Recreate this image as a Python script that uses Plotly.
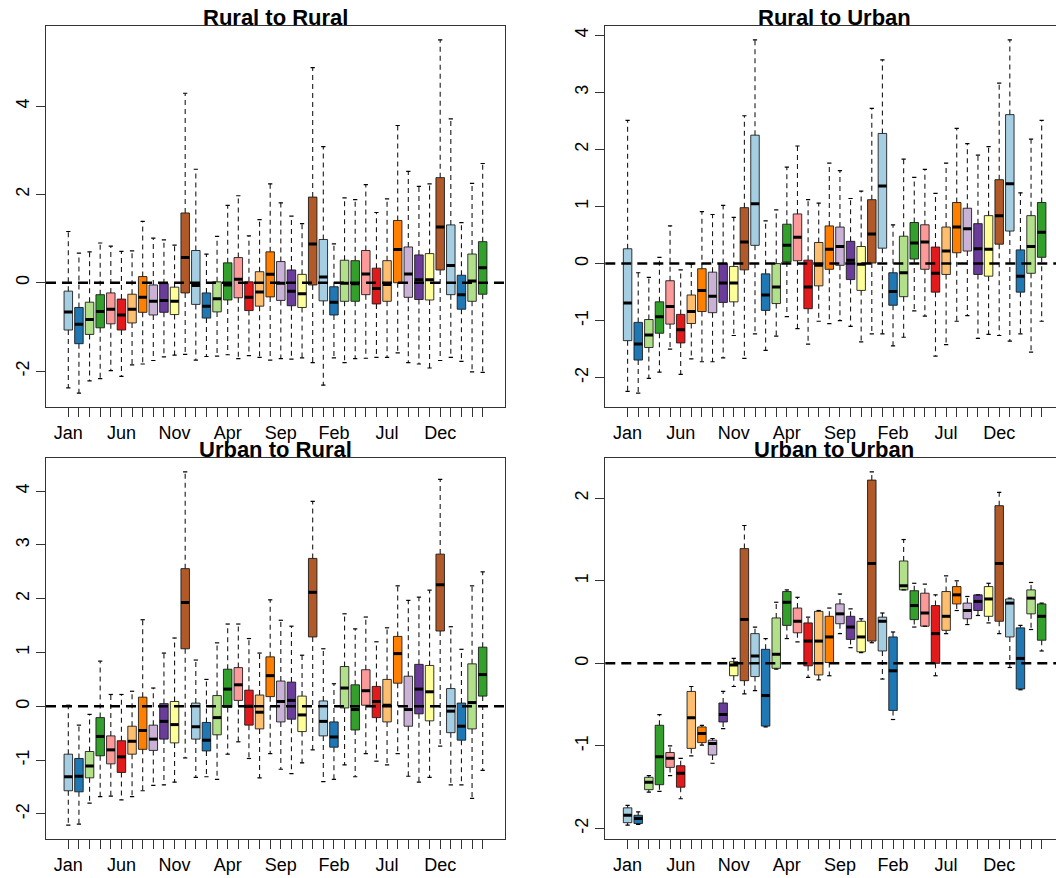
import plotly.graph_objects as go

MONTHS = ["Jan", "Feb", "Mar", "Apr", "May", "Jun",
          "Jul", "Aug", "Sep", "Oct", "Nov", "Dec"]
PAIRED = ["#A6CEE3", "#1F78B4", "#B2DF8A", "#33A02C", "#FB9A99", "#E31A1C",
          "#FDBF6F", "#FF7F00", "#CAB2D6", "#6A3D9A", "#FFFF99", "#B15928"]
N_BOXES = 40  # consecutive months starting in January

# ---- Rural to Rural: whisker low, Q1, median, Q3, whisker high ----
rr_low = [-2.38, -2.50, -2.22, -2.17, -1.99, -2.12, -1.86, -1.84, -1.76, -1.68,
          -1.64, -1.62, -1.75, -1.67, -1.66, -1.63, -1.72, -1.65, -1.69, -1.75,
          -1.72, -1.73, -1.70, -1.81, -2.32, -1.70, -1.81, -1.72, -1.71, -1.69,
          -1.69, -1.59, -1.81, -1.84, -1.93, -1.76, -1.69, -1.78, -2.02, -2.03]
rr_q1 = [-1.07, -1.38, -1.17, -1.02, -0.93, -1.07, -0.91, -0.67, -0.73, -0.67,
         -0.72, -0.23, -0.49, -0.80, -0.66, -0.39, -0.34, -0.63, -0.53, -0.32,
         -0.40, -0.52, -0.56, -0.05, -0.41, -0.73, -0.42, -0.42, -0.27, -0.48,
         -0.42, 0.00, -0.33, -0.38, -0.39, 0.29, -0.27, -0.60, -0.42, -0.26]
rr_med = [-0.66, -0.94, -0.83, -0.65, -0.60, -0.73, -0.60, -0.33, -0.42, -0.40,
          -0.42, 0.57, -0.06, -0.53, -0.36, -0.05, 0.08, -0.33, -0.21, 0.19,
          -0.01, -0.19, -0.25, 0.88, 0.13, -0.44, -0.01, -0.02, 0.20, -0.13,
          -0.04, 0.75, 0.20, 0.07, 0.07, 1.26, 0.39, -0.27, 0.04, 0.34]
rr_q3 = [-0.19, -0.56, -0.44, -0.27, -0.23, -0.37, -0.26, 0.14, -0.05, -0.02,
         -0.10, 1.58, 0.73, -0.23, 0.02, 0.45, 0.57, 0.02, 0.25, 0.70,
         0.48, 0.29, 0.19, 1.94, 0.98, -0.09, 0.51, 0.50, 0.73, 0.33,
         0.50, 1.41, 0.81, 0.63, 0.66, 2.38, 1.31, 0.17, 0.65, 0.93]
rr_high = [1.16, 0.67, 0.70, 0.90, 0.83, 0.71, 0.72, 1.39, 1.01, 0.97,
           0.85, 4.29, 2.57, 0.65, 1.05, 1.75, 1.97, 1.06, 1.43, 2.24,
           1.81, 1.51, 1.34, 4.87, 3.08, 0.88, 1.92, 1.88, 2.22, 1.59,
           1.90, 3.56, 2.52, 2.18, 2.24, 5.50, 3.71, 1.36, 2.25, 2.70]

# ---- Rural to Urban ----
ru_low = [-2.24, -2.27, -2.01, -1.90, -1.50, -1.94, -1.67, -1.72, -1.72, -1.65,
          -1.26, -1.66, -1.23, -1.52, -1.27, -0.93, -1.14, -1.41, -1.01, -1.05,
          -1.00, -1.10, -1.37, -1.23, -1.23, -1.44, -1.29, -0.83, -0.92, -1.62,
          -1.42, -1.01, -0.91, -1.31, -1.24, -1.26, -1.36, -1.23, -1.55, -1.01]
ru_q1 = [-1.35, -1.69, -1.47, -1.22, -1.06, -1.39, -1.05, -0.84, -0.86, -0.68,
         -0.67, -0.11, 0.32, -0.82, -0.70, 0.03, 0.05, -0.79, -0.39, -0.10,
         -0.03, -0.28, -0.47, 0.01, 0.27, -0.73, -0.58, 0.08, -0.10, -0.50,
         -0.19, 0.19, 0.22, -0.19, -0.22, 0.34, 0.57, -0.50, -0.17, 0.11]
ru_med = [-0.69, -1.41, -1.25, -0.93, -0.75, -1.16, -0.84, -0.47, -0.57, -0.34,
          -0.34, 0.38, 1.05, -0.55, -0.41, 0.32, 0.46, -0.41, -0.03, 0.25,
          0.30, 0.06, -0.01, 0.52, 1.36, -0.49, -0.16, 0.36, 0.38, -0.17,
          0.22, 0.64, 0.61, 0.26, 0.25, 0.84, 1.40, -0.22, 0.30, 0.55]
ru_q3 = [0.26, -1.03, -0.98, -0.67, -0.30, -0.89, -0.55, -0.09, -0.15, 0.00,
         -0.05, 0.98, 2.25, -0.18, 0.00, 0.69, 0.87, 0.06, 0.37, 0.66,
         0.64, 0.39, 0.30, 1.12, 2.28, -0.16, 0.48, 0.72, 0.68, 0.29,
         0.64, 1.07, 0.97, 0.70, 0.84, 1.47, 2.61, 0.24, 0.84, 1.07]
ru_high = [2.51, -0.16, -0.24, 0.11, 0.66, -0.11, -0.01, 0.91, 0.86, 1.02,
           0.81, 2.59, 3.92, 0.75, 0.94, 1.69, 2.06, 1.12, 1.06, 1.76,
           1.63, 1.14, 1.27, 2.72, 3.57, 0.68, 1.83, 1.51, 1.65, 1.23,
           1.76, 2.37, 2.10, 1.90, 2.05, 3.16, 3.92, 1.24, 2.18, 2.51]

# ---- Urban to Rural ----
ur_low = [-2.21, -2.19, -1.80, -1.68, -1.67, -1.74, -1.68, -1.57, -1.47, -1.46,
          -1.41, -0.96, -1.32, -1.31, -1.36, -0.89, -0.66, -0.97, -1.33, -0.88,
          -1.17, -1.25, -1.05, -0.81, -1.40, -1.36, -1.09, -1.31, -0.88, -1.02,
          -1.09, -0.88, -1.30, -1.41, -1.32, -0.74, -1.46, -1.46, -1.71, -1.19]
ur_q1 = [-1.57, -1.59, -1.33, -0.92, -1.07, -1.23, -0.89, -0.80, -0.82, -0.61,
         -0.68, 1.07, -0.61, -0.83, -0.53, -0.02, 0.11, -0.35, -0.42, 0.18,
         -0.29, -0.24, -0.47, 1.29, -0.55, -0.76, -0.03, -0.44, 0.02, -0.21,
         -0.29, 0.43, -0.37, -0.14, -0.27, 1.40, -0.49, -0.63, -0.42, 0.19]
ur_med = [-1.31, -1.30, -1.11, -0.56, -0.81, -0.94, -0.65, -0.45, -0.61, -0.28,
          -0.34, 1.93, -0.38, -0.63, -0.21, 0.32, 0.40, 0.00, -0.11, 0.57,
          0.09, 0.11, -0.16, 2.12, -0.28, -0.57, 0.34, -0.06, 0.29, 0.09,
          0.02, 0.98, -0.06, 0.32, 0.27, 2.26, -0.09, -0.37, 0.07, 0.59]
ur_q3 = [-0.89, -0.97, -0.84, -0.21, -0.55, -0.64, -0.37, 0.17, -0.35, 0.05,
         0.09, 2.56, 0.06, -0.30, 0.20, 0.69, 0.72, 0.30, 0.21, 0.92,
         0.47, 0.45, 0.19, 2.75, 0.10, -0.29, 0.74, 0.40, 0.68, 0.37,
         0.50, 1.30, 0.56, 0.78, 0.76, 2.83, 0.33, 0.06, 0.79, 1.10]
ur_high = [0.02, -0.35, -0.15, 0.84, 0.22, 0.22, 0.28, 1.61, 0.34, 0.99,
           1.27, 4.36, 0.86, 0.50, 1.18, 1.53, 1.53, 1.26, 0.99, 1.98,
           1.60, 1.49, 0.95, 3.81, 1.07, 0.42, 1.72, 1.44, 1.66, 1.20,
           1.46, 2.24, 1.97, 2.03, 2.16, 4.22, 1.48, 1.06, 2.24, 2.50]

# ---- Urban to Urban ----
uu_low = [-1.96, -1.95, -1.56, -1.55, -1.36, -1.64, -1.12, -0.99, -1.21, -0.79,
          -0.28, -0.37, -0.33, -0.77, -0.07, 0.30, 0.26, -0.17, -0.20, -0.15,
          0.36, 0.19, 0.13, 0.25, -0.19, -0.68, 0.89, 0.44, 0.45, -0.15,
          0.36, 0.64, 0.47, 0.58, 0.49, 0.36, -0.05, -0.32, 0.41, 0.15]
uu_q1 = [-1.93, -1.94, -1.53, -1.47, -1.26, -1.50, -1.03, -0.96, -1.11, -0.71,
         -0.15, -0.21, -0.16, -0.76, -0.06, 0.46, 0.37, -0.03, -0.14, 0.01,
         0.48, 0.29, 0.14, 0.27, 0.15, -0.57, 0.89, 0.53, 0.45, 0.00,
         0.40, 0.72, 0.54, 0.64, 0.57, 0.51, 0.32, -0.31, 0.60, 0.28]
uu_med = [-1.84, -1.88, -1.44, -1.13, -1.15, -1.33, -0.66, -0.85, -0.97, -0.62,
          -0.02, 0.53, 0.09, -0.39, 0.11, 0.74, 0.51, 0.27, 0.27, 0.32,
          0.60, 0.44, 0.32, 1.21, 0.51, -0.09, 0.94, 0.70, 0.61, 0.36,
          0.57, 0.83, 0.64, 0.75, 0.78, 1.21, 0.73, 0.06, 0.79, 0.57]
uu_q3 = [-1.75, -1.84, -1.38, -0.75, -1.08, -1.24, -0.34, -0.77, -0.93, -0.48,
         0.02, 1.39, 0.36, 0.17, 0.55, 0.87, 0.67, 0.49, 0.63, 0.57,
         0.72, 0.57, 0.51, 2.22, 0.56, 0.32, 1.24, 0.88, 0.85, 0.70,
         0.87, 0.93, 0.73, 0.83, 0.93, 1.91, 0.78, 0.43, 0.89, 0.72]
uu_high = [-1.72, -1.80, -1.36, -0.62, -1.00, -1.15, -0.28, -0.75, -0.91, -0.34,
           0.06, 1.67, 0.44, 0.30, 0.74, 0.89, 0.80, 0.56, 0.64, 0.67,
           0.84, 0.66, 0.54, 2.32, 0.61, 0.38, 1.50, 0.97, 0.96, 0.83,
           1.06, 1.00, 0.81, 0.83, 0.97, 2.07, 0.79, 0.46, 0.98, 0.73]

TITLES = ["Rural to Rural", "Rural to Urban", "Urban to Rural", "Urban to Urban"]
PANEL_DATA = [
    (rr_low, rr_q1, rr_med, rr_q3, rr_high),
    (ru_low, ru_q1, ru_med, ru_q3, ru_high),
    (ur_low, ur_q1, ur_med, ur_q3, ur_high),
    (uu_low, uu_q1, uu_med, uu_q3, uu_high),
]
Y_TICKS = [[-2, 0, 2, 4], [-2, -1, 0, 1, 2, 3, 4],
           [-2, -1, 0, 1, 2, 3, 4], [-2, -1, 0, 1, 2]]

# ---- layout geometry (fractions of the 1056 x 878 page) ----
W, H = 1056, 878
X_DOMAINS = [(46 / W, 505 / W), (605.3 / W, 1.0)]
X_RANGES = [(-1.1, 42.1), (-1.1, 41.35)]
Y_DOMAINS = [(1 - 407.3 / H, 1 - 25.7 / H), (1 - 839.3 / H, 1 - 457.7 / H)]
PANEL_CENTERS = [275.5 / W, 834.3 / W]

FONT = "Liberation Sans, Arial, Helvetica, sans-serif"
BOX_W = 0.8
STAPLE_W = 0.4

positions = list(range(1, N_BOXES + 1))
colors = [PAIRED[(p - 1) % 12] for p in positions]
tick_text = [MONTHS[(p - 1) % 12] if (p - 1) % 5 == 0 else "" for p in positions]

fig = go.Figure()
layout_axes = {}
annotations = []
shapes = []

for k, (title, data, yt) in enumerate(zip(TITLES, PANEL_DATA, Y_TICKS)):
    row, col = divmod(k, 2)
    low, q1, med, q3, high = data
    xa = "x" if k == 0 else f"x{k + 1}"
    ya = "y" if k == 0 else f"y{k + 1}"
    xname = "xaxis" if k == 0 else f"xaxis{k + 1}"
    yname = "yaxis" if k == 0 else f"yaxis{k + 1}"

    # whiskers (dashed) from box edges to extremes
    wx, wy = [], []
    for p, a, b, c, d in zip(positions, low, q1, q3, high):
        wx += [p, p, None, p, p, None]
        wy += [c, d, None, b, a, None]
    fig.add_trace(go.Scatter(x=wx, y=wy, mode="lines", xaxis=xa, yaxis=ya,
                             line=dict(color="#1a1a1a", width=1.1, dash="5px,4px"),
                             hoverinfo="skip", showlegend=False))
    # staples at whisker ends
    sx, sy = [], []
    for p, a, d in zip(positions, low, high):
        sx += [p - STAPLE_W / 2, p + STAPLE_W / 2, None,
               p - STAPLE_W / 2, p + STAPLE_W / 2, None]
        sy += [d, d, None, a, a, None]
    fig.add_trace(go.Scatter(x=sx, y=sy, mode="lines", xaxis=xa, yaxis=ya,
                             line=dict(color="black", width=1.2),
                             hoverinfo="skip", showlegend=False))
    # boxes: interquartile range as floating bars
    fig.add_trace(go.Bar(x=positions, y=[c - b for b, c in zip(q1, q3)], base=q1,
                         width=BOX_W, xaxis=xa, yaxis=ya,
                         marker=dict(color=colors,
                                     line=dict(color="rgba(20,20,20,0.85)", width=1)),
                         hoverinfo="skip", showlegend=False))
    # medians
    mx, my = [], []
    for p, m in zip(positions, med):
        mx += [p - BOX_W / 2, p + BOX_W / 2, None]
        my += [m, m, None]
    fig.add_trace(go.Scatter(x=mx, y=my, mode="lines", xaxis=xa, yaxis=ya,
                             line=dict(color="black", width=3),
                             hoverinfo="skip", showlegend=False))

    lo, hi = min(low), max(high)
    pad = 0.04 * (hi - lo)
    axis_common = dict(showgrid=False, zeroline=False, showline=True, mirror=True,
                       linecolor="#333", linewidth=1, ticks="outside", ticklen=9,
                       tickwidth=1, tickcolor="#333",
                       tickfont=dict(family=FONT, size=18, color="black"),
                       automargin=False)
    layout_axes[xname] = dict(axis_common, domain=list(X_DOMAINS[col]),
                              range=list(X_RANGES[col]), anchor=ya,
                              tickmode="array", tickvals=positions, ticktext=tick_text)
    layout_axes[yname] = dict(axis_common, domain=list(Y_DOMAINS[row]),
                              range=[lo - pad, hi + pad], anchor=xa,
                              tickmode="array", tickvals=yt,
                              ticktext=[str(v) for v in yt], tickangle=-90)

    # dashed reference line at zero
    shapes.append(dict(type="line", xref=f"{xa} domain", yref=ya, x0=0, x1=1,
                       y0=0, y1=0, layer="above",
                       line=dict(color="black", width=2.5, dash="10px,6px")))
    annotations.append(dict(text=f"<b>{title}</b>", xref="paper", yref="paper",
                            x=PANEL_CENTERS[col], y=Y_DOMAINS[row][1],
                            xanchor="center", yanchor="bottom", yshift=-6,
                            showarrow=False,
                            font=dict(family=FONT, size=22, color="black")))

fig.update_layout(width=W, height=H, margin=dict(l=0, r=0, t=0, b=0),
                  paper_bgcolor="white", plot_bgcolor="white",
                  barmode="overlay", showlegend=False,
                  annotations=annotations, shapes=shapes, **layout_axes)

fig.write_html("out.html")
